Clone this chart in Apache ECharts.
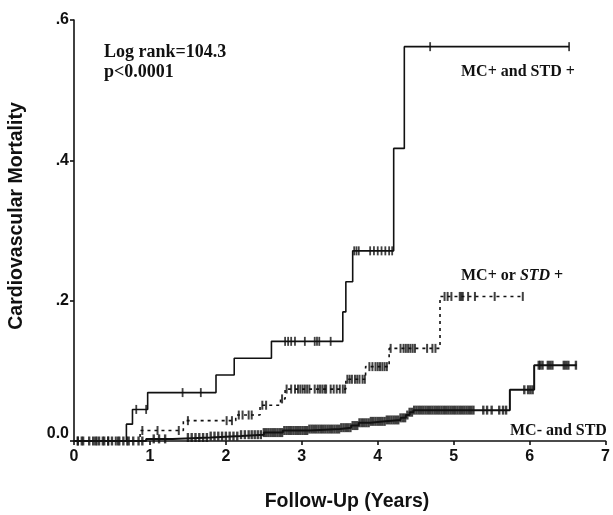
<!DOCTYPE html>
<html>
<head>
<meta charset="utf-8">
<script src="https://cdn.jsdelivr.net/npm/echarts@6/dist/echarts.min.js"></script>
<style>html,body{margin:0;padding:0;background:#fff}#c{width:613px;height:515px}</style>
</head>
<body>
<div id="c"></div>
<script>
// ---- data ----
const xTicks = [0, 1, 2, 3, 4, 5, 6, 7];
const yTicks = [0, 0.2, 0.4, 0.6];
const yTickLabels = ['0.0', '.2', '.4', '.6'];

const groupNames = ['MC+ and STD +', 'MC+ or STD +', 'MC- and STD'];

// Kaplan-Meier steps: [time (years), cumulative mortality after that time]
const stepsBoth = [[0,0],[0.69,0.024],[0.77,0.045],[0.97,0.069],[1.87,0.094],[2.11,0.118],[2.60,0.142],[3.54,0.184],[3.58,0.227],[3.67,0.271],[4.21,0.417],[4.35,0.562],[6.52,0.562]];
const stepsEither = [[0,0],[0.87,0.015],[1.44,0.029],[2.13,0.037],[2.45,0.051],[2.72,0.060],[2.78,0.074],[3.58,0.088],[3.84,0.106],[4.15,0.132],[4.82,0.206],[5.91,0.206]];
const stepsNone = [[0,0],[0.95,0.003],[1.30,0.005],[1.80,0.007],[2.20,0.009],[2.50,0.012],[2.75,0.015],[3.10,0.017],[3.50,0.019],[3.65,0.022],[3.75,0.026],[3.90,0.028],[4.10,0.030],[4.30,0.033],[4.37,0.037],[4.42,0.041],[4.47,0.044],[5.74,0.073],[6.06,0.108],[6.62,0.108]];

// censoring times (years)
const censorBoth = [0.05,0.30,0.45,0.60,0.82,0.95,1.43,1.67,2.78,2.82,2.86,2.91,3.04,3.17,3.20,3.23,3.38,3.69,3.72,3.75,3.90,3.95,4.00,4.05,4.10,4.15,4.19,4.69,6.52];
const censorEither = [0.10,0.25,0.40,0.55,0.70,0.90,1.10,1.38,1.50,2.01,2.08,2.17,2.22,2.30,2.34,2.48,2.53,2.74,2.80,2.86,2.91,2.95,2.98,3.01,3.04,3.07,3.10,3.17,3.21,3.24,3.27,3.30,3.32,3.38,3.42,3.46,3.50,3.54,3.57,3.60,3.63,3.66,3.70,3.73,3.76,3.80,3.83,3.89,3.93,3.97,4.00,4.03,4.06,4.09,4.12,4.17,4.30,4.34,4.37,4.40,4.43,4.46,4.49,4.65,4.72,4.76,4.88,4.92,4.97,5.08,5.10,5.12,5.19,5.28,5.54,5.91];
const censorNone = [0.05,0.12,0.20,0.28,0.33,0.38,0.45,0.50,0.58,0.65,0.72,0.78,0.85,0.90,1.05,1.12,1.20,1.50,1.55,1.60,1.65,1.70,1.75,1.80,1.85,1.90,1.95,2.00,2.05,2.10,2.15,2.20,2.25,2.30,2.34,2.38,2.42,2.46,2.50,2.53,2.56,2.59,2.62,2.65,2.68,2.71,2.74,2.77,2.80,2.83,2.86,2.89,2.92,2.95,2.98,3.01,3.04,3.07,3.10,3.13,3.16,3.19,3.22,3.25,3.28,3.31,3.34,3.37,3.40,3.43,3.46,3.49,3.52,3.55,3.58,3.61,3.64,3.67,3.70,3.73,3.76,3.79,3.82,3.85,3.88,3.91,3.94,3.97,4.00,4.03,4.06,4.09,4.12,4.15,4.18,4.21,4.24,4.27,4.30,4.33,4.36,4.39,4.42,4.45,4.48,4.51,4.54,4.57,4.60,4.63,4.66,4.69,4.72,4.75,4.78,4.81,4.84,4.87,4.90,4.93,4.96,4.99,5.02,5.05,5.08,5.11,5.14,5.17,5.20,5.23,5.26,5.39,5.44,5.50,5.60,5.65,5.69,5.93,5.98,6.01,6.04,6.12,6.14,6.17,6.24,6.27,6.30,6.45,6.48,6.51,6.61];

// ---- helpers ----
function valueAt(steps, t) {
  let v = steps[0][1];
  for (const s of steps) { if (s[0] <= t) v = s[1]; }
  return v;
}
function marks(steps, times) { return times.map(t => [t, valueAt(steps, t)]); }

const ink = '#111';
function markSeries(data, w, h) {
  return { type: 'scatter', symbol: 'rect', symbolSize: [w, h], itemStyle: { color: ink }, silent: true, z: 3, data: data };
}

const chart = echarts.init(document.getElementById('c'), null, { renderer: 'canvas' });
chart.setOption({
  animation: false,
  backgroundColor: '#fff',
  grid: { left: 74, right: 3, top: 20, bottom: 74, containLabel: false },
  xAxis: {
    type: 'value', min: 0, max: 7, interval: 1,
    axisLine: { show: true, lineStyle: { color: ink, width: 1.6 } },
    axisTick: { show: true, length: 4, lineStyle: { color: ink, width: 1.6 } },
    axisLabel: { color: ink, fontFamily: 'Liberation Sans', fontWeight: 'bold', fontSize: 16, margin: 8,
      formatter: v => xTicks.includes(v) ? String(v) : '' },
    splitLine: { show: false }
  },
  yAxis: {
    type: 'value', min: 0, max: 0.6, interval: 0.2,
    axisLine: { show: true, lineStyle: { color: ink, width: 1.6 } },
    axisTick: { show: true, length: 4, lineStyle: { color: ink, width: 1.6 } },
    axisLabel: { color: ink, fontFamily: 'Liberation Sans', fontWeight: 'bold', fontSize: 16, margin: 5,
      formatter: v => {
        const i = yTicks.findIndex(t => Math.abs(t - v) < 1e-9);
        if (i < 0) return '';
        return i === 0 ? '{z|' + yTickLabels[i] + '}' : yTickLabels[i];
      },
      rich: { z: { fontFamily: 'Liberation Sans', fontWeight: 'bold', fontSize: 16, color: ink, padding: [0, 0, 14, 0] } }
    },
    splitLine: { show: false }
  },
  series: [
    { name: groupNames[0], type: 'line', step: 'end', data: stepsBoth, showSymbol: false,
      lineStyle: { color: ink, width: 1.6 }, z: 2 },
    { name: groupNames[1], type: 'line', step: 'end', data: stepsEither, showSymbol: false,
      lineStyle: { color: ink, width: 1.6, type: [3, 4] }, z: 2 },
    { name: groupNames[2], type: 'line', step: 'end', data: stepsNone, showSymbol: false,
      lineStyle: { color: ink, width: 2 }, z: 2 },
    markSeries(marks(stepsBoth, censorBoth), 1.8, 9),
    markSeries(marks(stepsEither, censorEither), 2, 9),
    markSeries(marks(stepsNone, censorNone), 2.4, 9)
  ],
  graphic: [
    { type: 'text', left: 104, top: 43, style: { text: 'Log rank=104.3', font: 'bold 18px "Liberation Serif"', fill: ink } },
    { type: 'text', left: 104, top: 63, style: { text: 'p<0.0001', font: 'bold 18px "Liberation Serif"', fill: ink } },
    { type: 'text', left: 461, top: 64, style: { text: groupNames[0], font: 'bold 16px "Liberation Serif"', fill: ink } },
    { type: 'text', left: 461, top: 268, style: { text: '{b|MC+ or }{i|STD}{b| +}',
        rich: { b: { font: 'bold 16px "Liberation Serif"', fill: ink }, i: { font: 'italic bold 16px "Liberation Serif"', fill: ink } } } },
    { type: 'text', left: 510, top: 423, style: { text: groupNames[2], font: 'bold 16px "Liberation Serif"', fill: ink } },
    { type: 'text', x: 17, y: 216, rotation: Math.PI / 2,
      style: { text: 'Cardiovascular Mortality', font: 'bold 19.5px "Liberation Sans"', fill: ink, align: 'center', verticalAlign: 'middle' } },
    { type: 'text', x: 347, y: 502,
      style: { text: 'Follow-Up (Years)', font: 'bold 19.5px "Liberation Sans"', fill: ink, align: 'center', verticalAlign: 'middle' } }
  ]
});
</script>
</body>
</html>
